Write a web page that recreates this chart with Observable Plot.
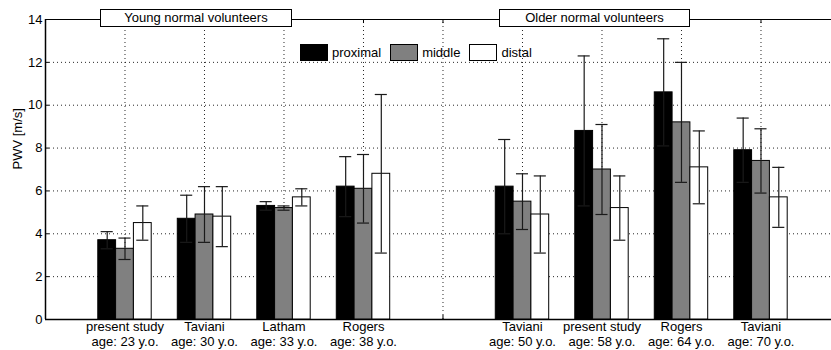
<!DOCTYPE html>
<html>
<head>
<meta charset="utf-8">
<script src="https://cdn.jsdelivr.net/npm/d3@7"></script>
<script src="https://cdn.jsdelivr.net/npm/@observablehq/plot@0.6"></script>
<style>
  html, body { margin: 0; padding: 0; background: #fff; }
  #wrap { position: relative; width: 831px; height: 350px; font-family: "Liberation Sans", Arial, Helvetica, sans-serif; }
  .panel { position: absolute; top: 9px; height: 18px; box-sizing: border-box; border: 1px solid #000; background: #fff;
           font-size: 13px; line-height: 16px; text-align: center; color: #000; }
  #legend { position: absolute; left: 300px; top: 44px; display: flex; align-items: center; font-size: 13px; color: #000; }
  .sw { width: 28px; height: 17px; box-sizing: border-box; border: 1px solid #000; margin-right: 4px; }
  .lt { margin-right: 9px; }
</style>
</head>
<body>
<div id="wrap"></div>
<script>
// ---- data ----
const groupPos = [1, 2, 3, 4, 6, 7, 8, 9];
const studies = ["present study", "Taviani", "Latham", "Rogers", "Taviani", "present study", "Rogers", "Taviani"];
const ages = ["age: 23 y.o.", "age: 30 y.o.", "age: 33 y.o.", "age: 38 y.o.", "age: 50 y.o.", "age: 58 y.o.", "age: 64 y.o.", "age: 70 y.o."];
const seriesNames = ["proximal", "middle", "distal"];
const proximal    = [3.7, 4.7, 5.3, 6.2, 6.2, 8.8, 10.6, 7.9];
const proximalErr = [0.4, 1.1, 0.2, 1.4, 2.2, 3.5, 2.5, 1.5];
const middle      = [3.3, 4.9, 5.2, 6.1, 5.5, 7.0, 9.2, 7.4];
const middleErr   = [0.5, 1.3, 0.1, 1.6, 1.3, 2.1, 2.8, 1.5];
const distal      = [4.5, 4.8, 5.7, 6.8, 4.9, 5.2, 7.1, 5.7];
const distalErr   = [0.8, 1.4, 0.4, 3.7, 1.8, 1.5, 1.7, 1.4];
const panelLabels = ["Young normal volunteers", "Older normal volunteers"];
const yLabel = "PWV [m/s]";
const yTicks = [0, 2, 4, 6, 8, 10, 12, 14];
const xTicks = [1, 2, 3, 4, 5, 6, 7, 8, 9];

// ---- build table ----
const barW = 0.224;
const values = [proximal, middle, distal];
const errs = [proximalErr, middleErr, distalErr];
const fills = { proximal: "#000000", middle: "#808080", distal: "#ffffff" };
const rows = [];
groupPos.forEach((p, i) => {
  seriesNames.forEach((s, k) => {
    const c = p + (k - 1) * barW;
    rows.push({ series: s, x1: c - barW / 2, x2: c + barW / 2, xc: c, v: values[k][i], e: errs[k][i] });
  });
});
const capHalf = 0.076;
const gridH = yTicks.filter(d => d > 0 && d < 14);

const font = '"Liberation Sans", Arial, Helvetica, sans-serif';

const chart = Plot.plot({
  width: 831,
  height: 350,
  marginLeft: 45,
  marginRight: 0,
  marginTop: 19,
  marginBottom: 31,
  style: { fontFamily: font, fontSize: "13px", color: "#000", background: "#fff", overflow: "visible" },
  x: { domain: [0, 9.887], axis: null },
  y: { domain: [0, 14], axis: null },
  marks: [
    // dotted grid
    Plot.ruleY(gridH, { stroke: "#000", strokeDasharray: "1,3", strokeWidth: 1, strokeOpacity: 0.85 }),
    Plot.ruleX(xTicks, { y1: 0, y2: 14, stroke: "#000", strokeDasharray: "1,3", strokeWidth: 1, strokeOpacity: 0.85 }),
    // frame lines
    Plot.ruleY([14], { stroke: "#000", strokeWidth: 1 }),
    Plot.ruleY([0], { stroke: "#000", strokeWidth: 1.5 }),
    Plot.ruleX([0], { y1: 0, y2: 14, stroke: "#000", strokeWidth: 1.5 }),
    // inward ticks
    Plot.ruleY(yTicks, { x1: 0, x2: 0.05, stroke: "#000" }),
    Plot.ruleX(xTicks, { y1: 0, y2: 0.19, stroke: "#000" }),
    Plot.ruleX(xTicks, { y1: 13.81, y2: 14, stroke: "#000" }),
    // bars
    Plot.rectY(rows, { x1: "x1", x2: "x2", y1: 0, y2: "v", fill: d => fills[d.series], stroke: "#000", strokeWidth: 1 }),
    // error bars
    Plot.ruleX(rows, { x: "xc", y1: d => d.v - d.e, y2: d => d.v + d.e, stroke: "#1a1a1a", strokeWidth: 1.2 }),
    Plot.ruleY(rows, { y: d => d.v + d.e, x1: d => d.xc - capHalf, x2: d => d.xc + capHalf, stroke: "#1a1a1a", strokeWidth: 1.2 }),
    Plot.ruleY(rows, { y: d => d.v - d.e, x1: d => d.xc - capHalf, x2: d => d.xc + capHalf, stroke: "#1a1a1a", strokeWidth: 1.2 }),
    // axes
    Plot.axisY({ ticks: yTicks, tickSize: 0, tickPadding: 3, label: null, fontSize: 13 }),
    Plot.axisX({
      ticks: groupPos, tickSize: 0, tickPadding: 1, label: null, fontSize: 13, lineHeight: 1.154,
      tickFormat: d => { const i = groupPos.indexOf(d); return studies[i] + "\n" + ages[i]; }
    }),
    Plot.text([yLabel], { frameAnchor: "left", rotate: -90, dx: -28, fontSize: 13, fill: "#000" })
  ]
});

const wrap = document.getElementById("wrap");
wrap.appendChild(chart);

// panel labels
const panelBoxes = [{ left: 100, width: 192 }, { left: 499, width: 191 }];
panelLabels.forEach((t, i) => {
  const d = document.createElement("div");
  d.className = "panel";
  d.style.left = panelBoxes[i].left + "px";
  d.style.width = panelBoxes[i].width + "px";
  d.textContent = t;
  wrap.appendChild(d);
});

// legend
const lg = document.createElement("div");
lg.id = "legend";
seriesNames.forEach(s => {
  const sw = document.createElement("span");
  sw.className = "sw";
  sw.style.background = fills[s];
  const tx = document.createElement("span");
  tx.className = "lt";
  tx.textContent = s;
  lg.appendChild(sw);
  lg.appendChild(tx);
});
wrap.appendChild(lg);
</script>
</body>
</html>
